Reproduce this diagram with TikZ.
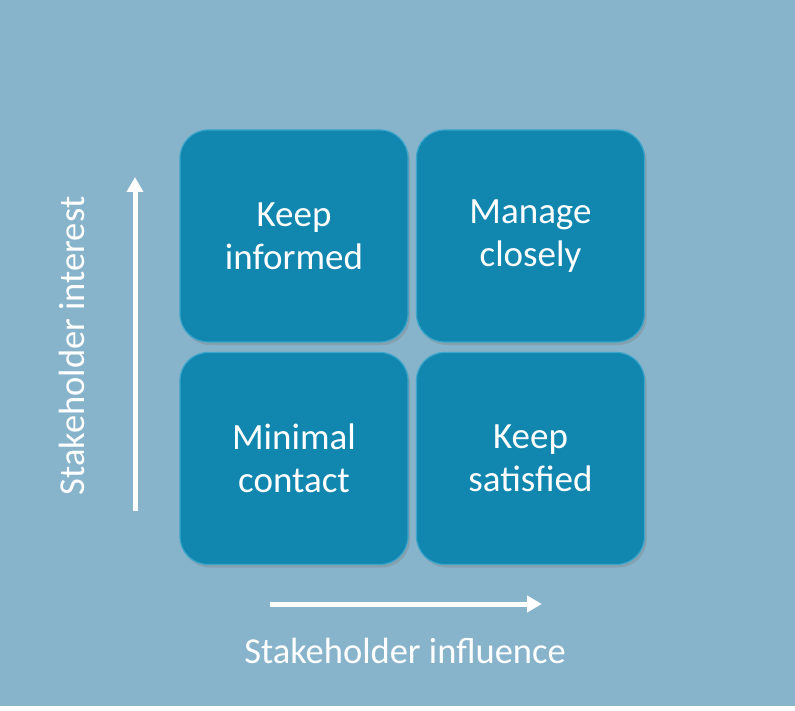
\documentclass[tikz,border=0pt]{standalone}
\usepackage{fontspec}
\setmainfont{Carlito}
\usetikzlibrary{arrows.meta,shadows}
\definecolor{bg}{HTML}{87B3CB}
\definecolor{boxc}{HTML}{1186AF}
\definecolor{boxe}{HTML}{3AA6CC}
\tikzset{
  quad/.style={draw=boxe,line width=1.2pt,fill=boxc,rounded corners=28pt,minimum width=228pt,minimum height=212pt,
    text=white,font=\fontsize{37}{43}\selectfont,align=center,
    drop shadow={shadow xshift=2pt,shadow yshift=-3pt,opacity=0.35}},
  axis/.style={white,line width=5pt,-{Triangle[length=15pt,width=16pt]}},
  lab/.style={text=white,font=\fontsize{36.5}{43}\selectfont}
}
\begin{document}
\begin{tikzpicture}[x=1pt,y=-1pt]
\fill[white] (0,0) rectangle (795,711);
\fill[bg] (0,0) rectangle (795,706);
\useasboundingbox (0,0) rectangle (795,711);
\node[quad] (ki) at (294,236) {Keep\\informed};
\node[quad] (mc) at (530.5,236) {Manage\\closely};
\node[quad] (mi) at (294,458.5) {Minimal\\contact};
\node[quad] (ks) at (530.5,458.5) {Keep\\satisfied};
\coordinate (v0) at (135,511);
\coordinate (v1) at (135,177);
\coordinate (h0) at (270,604);
\coordinate (h1) at (542,604);
\draw[axis] (v0) -- (v1);
\draw[axis] (h0) -- (h1);
\node[lab,rotate=90] (yl) at (72,346) {Stakeholder interest};
\node[lab] (xl) at (405,651) {Stakeholder influence};
\end{tikzpicture}
\end{document}
